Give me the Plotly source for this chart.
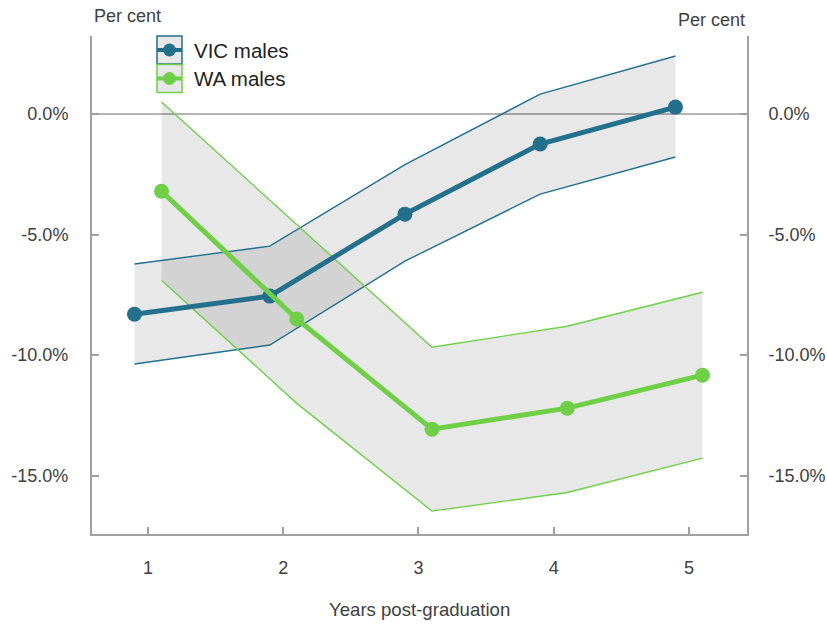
import plotly.graph_objects as go

# Years post-graduation; the two states are nudged either side of each year
years = [1, 2, 3, 4, 5]
vic_x = [0.9, 1.9, 2.9, 3.9, 4.9]
wa_x = [1.1, 2.1, 3.1, 4.1, 5.1]

# Earnings gap (per cent) with confidence bands
vic_est = [-8.3, -7.55, -4.15, -1.24, 0.29]
vic_upper = [-6.22, -5.48, -2.1, 0.83, 2.41]
vic_lower = [-10.37, -9.58, -6.1, -3.32, -1.78]

wa_est = [-3.2, -8.5, -13.07, -12.2, -10.83]
wa_upper = [0.5, -4.6, -9.67, -8.8, -7.39]
wa_lower = [-6.89, -12.0, -16.47, -15.7, -14.27]

y_ticks = [-15, -10, -5, 0]
y_tick_labels = ["-15.0%", "-10.0%", "-5.0%", "0.0%"]
x_tick_labels = ["1", "2", "3", "4", "5"]

VIC = "#22708c"
WA = "#6fcf47"
BAND = "rgba(0,0,0,0.09)"
AXIS = "#a0a0a0"
TEXT = "#404040"
FONT = "Liberation Sans, Arial, sans-serif"

y_range = [-17.42, 3.24]
x_range = [0.586, 5.429]

fig = go.Figure()

# shaded confidence bands
for xs, up, lo in [(vic_x, vic_upper, vic_lower), (wa_x, wa_upper, wa_lower)]:
    fig.add_trace(go.Scatter(
        x=xs + xs[::-1], y=up + lo[::-1], fill="toself", fillcolor=BAND,
        line=dict(width=0), mode="lines", hoverinfo="skip", showlegend=False))

# band edges
for xs, ys, c in [(vic_x, vic_upper, VIC), (vic_x, vic_lower, VIC),
                  (wa_x, wa_upper, WA), (wa_x, wa_lower, WA)]:
    fig.add_trace(go.Scatter(x=xs, y=ys, mode="lines",
                             line=dict(color=c, width=1.4), showlegend=False))

# point estimates
fig.add_trace(go.Scatter(x=vic_x, y=vic_est, mode="lines+markers", name="VIC males",
                         line=dict(color=VIC, width=5), marker=dict(color=VIC, size=15),
                         showlegend=False))
fig.add_trace(go.Scatter(x=wa_x, y=wa_est, mode="lines+markers", name="WA males",
                         line=dict(color=WA, width=5), marker=dict(color=WA, size=15),
                         showlegend=False))

# right-hand axis carries the same scale
fig.add_trace(go.Scatter(x=[], y=[], yaxis="y2", showlegend=False))

axis_font = dict(family=FONT, size=18, color=TEXT)

fig.update_layout(
    width=827, height=627,
    margin=dict(l=92, r=80, t=36, b=93),
    plot_bgcolor="white", paper_bgcolor="white",
    font=axis_font,
    xaxis=dict(range=x_range, tickvals=years, ticktext=x_tick_labels, automargin=False,
               showgrid=False, zeroline=False, showline=True, linecolor=AXIS,
               linewidth=2, ticks="inside", ticklen=7, tickwidth=1.5, tickcolor=AXIS,
               ticklabelstandoff=16, tickfont=axis_font),
    yaxis=dict(range=y_range, tickvals=y_ticks, ticktext=y_tick_labels, automargin=False,
               showgrid=False, zeroline=True, zerolinecolor="#b4b4b4", zerolinewidth=1.5,
               showline=True, linecolor=AXIS, linewidth=2, ticks="inside", ticklen=7,
               tickwidth=1.5, tickcolor=AXIS, ticklabelstandoff=18, tickfont=axis_font),
    yaxis2=dict(range=y_range, tickvals=y_ticks, ticktext=y_tick_labels, automargin=False,
                overlaying="y", side="right", showgrid=False, zeroline=False,
                showline=True, linecolor=AXIS, linewidth=2, ticks="inside", ticklen=7,
                tickwidth=1.5, tickcolor=AXIS, ticklabelstandoff=16, tickfont=axis_font),
)

# axis captions
fig.add_annotation(text="Per cent", xref="paper", yref="paper", x=0, y=1.040,
                   xanchor="left", yanchor="middle", showarrow=False, font=axis_font)
fig.add_annotation(text="Per cent", xref="paper", yref="paper", x=1, y=1.032,
                   xanchor="right", yanchor="middle", showarrow=False, font=axis_font)
fig.add_annotation(text="Years post-graduation", xref="paper", yref="paper", x=0.5,
                   y=-0.1526, xanchor="center", yanchor="middle", showarrow=False,
                   font=dict(family=FONT, size=18.6, color=TEXT))

# legend: boxed line-and-dot keys
legend_items = [("VIC males", VIC, -14), ("WA males", WA, -42.5)]
for label, color, cy in legend_items:
    common = dict(xref="paper", yref="paper", xsizemode="pixel", ysizemode="pixel",
                  xanchor=0, yanchor=1)
    fig.add_shape(type="rect", x0=65, x1=90, y0=cy + 14, y1=cy - 14,
                  line=dict(color=color, width=1.5), fillcolor="#e8e8e8", **common)
    fig.add_shape(type="line", x0=65, x1=90, y0=cy, y1=cy,
                  line=dict(color=color, width=4), **common)
    fig.add_shape(type="circle", x0=71, x1=84, y0=cy - 6.5, y1=cy + 6.5,
                  line=dict(color=color, width=0), fillcolor=color, **common)
    fig.add_annotation(text=label, xref="paper", yref="paper", x=100 / 655,
                       y=1 + cy / 498, xanchor="left", yanchor="middle", showarrow=False,
                       font=dict(family=FONT, size=20.5, color="#222222"))

fig.write_html("out.html")
